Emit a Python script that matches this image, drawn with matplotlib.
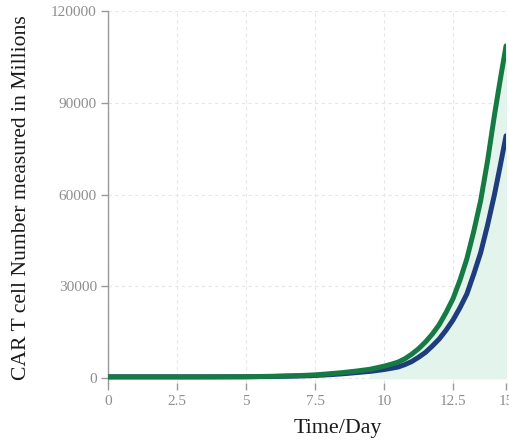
import matplotlib
import numpy as np

matplotlib.use('Agg')
import matplotlib.pyplot as plt

# values (millions of cells)
days = [0, 1, 2, 3, 4, 5, 6, 7, 7.5, 8, 8.5, 9, 9.5, 10, 10.25, 10.5, 10.75,
        11, 11.25, 11.5, 11.75, 12, 12.25, 12.5, 12.75, 13, 13.25, 13.5,
        13.75, 14, 14.2, 14.42]
green_cells = [400, 400, 400, 400, 420, 450, 600, 850, 1050, 1400, 1800, 2300,
               2900, 3900, 4500, 5200, 6300, 7800, 9600, 11800, 14400, 17500,
               21500, 26000, 32000, 39000, 48000, 58000, 71000, 86000, 97000,
               108600]
blue_cells = [400, 400, 400, 400, 410, 430, 520, 700, 850, 1100, 1400, 1800,
              2200, 2800, 3200, 3600, 4400, 5400, 6800, 8400, 10500, 12800,
              15700, 19000, 23000, 27500, 34000, 41000, 50000, 60000, 69000,
              79200]

xticks = [0, 2.5, 5, 7.5, 10, 12.5, 14.42]
xtick_labels = ['0', '2.5', '5', '7.5', '10', '12.5', '15']
yticks = [0, 30000, 60000, 90000, 120000]

plt.rcParams['font.family'] = ['Liberation Serif', 'DejaVu Serif']

fig = plt.figure(figsize=(5.09, 4.44), dpi=100)
ax = fig.add_axes([0.2122, 0.1374, 0.782, 0.8378])

days_arr = np.array(days)
green_arr = np.array(green_cells)
mask = days_arr >= 9.5
ax.fill_between(days_arr[mask], 0, green_arr[mask], color='#e2f4ec', zorder=1)

ax.plot(days, blue_cells, color='#1f3d7c', lw=3.6, solid_capstyle='round',
        solid_joinstyle='round', zorder=3)
ax.plot(days, green_cells, color='#167a44', lw=3.6, solid_capstyle='round',
        solid_joinstyle='round', zorder=4)

ax.set_xlim(0, 14.42)
ax.set_ylim(-1600, 120000)
ax.set_xticks(xticks)
ax.set_xticklabels(xtick_labels)
ax.set_yticks(yticks)

ax.grid(True, color='#e6e6e6', linestyle=(0, (3, 3)), linewidth=0.8)
ax.set_axisbelow(True)

for s in ['top', 'right', 'bottom']:
    ax.spines[s].set_visible(False)
ax.spines['left'].set_color('#9a9a9a')
ax.spines['left'].set_linewidth(1.0)

ax.tick_params(axis='both', colors='#9a9a9a', labelcolor='#8e8e8e',
               labelsize=11, length=5, width=1.0, direction='out')
ax.tick_params(axis='x', pad=4)
ax.tick_params(axis='y', pad=3)

fig.text(0.664, 0.036, 'Time/Day', ha='center', va='center', fontsize=15.8,
         color='#1a1a1a')
fig.text(0.043, 0.554, 'CAR T cell Number measured in Millions', ha='center',
         va='center', rotation=90, fontsize=15.6, color='#1a1a1a')

fig.savefig('out.png', dpi=100)
